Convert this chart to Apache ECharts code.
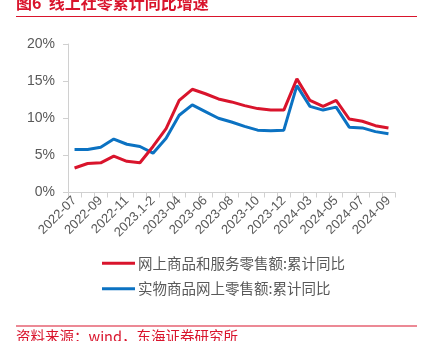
<!DOCTYPE html>
<html>
<head>
<meta charset="utf-8">
<script src="https://cdn.jsdelivr.net/npm/echarts@6/dist/echarts.min.js"></script>
<style>
html,body{margin:0;padding:0;background:#fff;}
#c{width:429px;height:341px;}
</style>
</head>
<body>
<div id="c"></div>
<script>
var categories = ["2022-07","2022-08","2022-09","2022-10","2022-11","2022-12","2023.1-2","2023-03","2023-04","2023-05","2023-06","2023-07","2023-08","2023-09","2023-10","2023-11","2023-12","2024.1-2","2024-03","2024-04","2024-05","2024-06","2024-07","2024-08","2024-09"];
var onlineGoodsServices = [3.3,3.9,4.0,4.9,4.2,4.0,6.2,8.6,12.4,13.9,13.3,12.6,12.2,11.7,11.3,11.1,11.1,15.3,12.4,11.6,12.4,9.9,9.6,9.0,8.7];
var physicalGoodsOnline = [5.8,5.8,6.1,7.2,6.5,6.2,5.3,7.3,10.4,11.8,10.9,10.0,9.5,8.9,8.4,8.3,8.4,14.4,11.6,11.1,11.5,8.8,8.7,8.2,7.9];
var seriesNames = ["网上商品和服务零售额:累计同比","实物商品网上零售额:累计同比"];
var yTicks = [0,5,10,15,20];
var titleText = "图6  线上社零累计同比增速";
var sourceText = "资料来源：wind，东海证券研究所";

var RED = "#d9142c", BLUE = "#0b72c2", GRAY = "#595959", AXIS = "#d0d0d0";
var chart = echarts.init(document.getElementById("c"), null, {renderer:"canvas"});
chart.setOption({
  animation:false,
  backgroundColor:"#fff",
  textStyle:{fontFamily:"'Liberation Sans', 'Noto Sans CJK SC', sans-serif"},
  grid:{left:68,right:34,top:44,bottom:148.5,containLabel:false},
  legend:{
    orient:"vertical", left:97, top:251,
    itemWidth:33, itemHeight:3, itemGap:11,
    icon:"rect",
    textStyle:{color:GRAY,fontSize:14.5,fontFamily:"'Noto Sans CJK SC', sans-serif",padding:[0,0,0,-2]},
    data:seriesNames
  },
  xAxis:{
    type:"category", data:categories, boundaryGap:true,
    axisLine:{lineStyle:{color:AXIS,width:1}},
    axisTick:{show:true,interval:0,length:5,lineStyle:{color:AXIS}},
    axisLabel:{interval:1,rotate:45,color:GRAY,fontSize:13,margin:6},
    splitLine:{show:false}
  },
  yAxis:{
    type:"value", min:yTicks[0], max:yTicks[yTicks.length-1], interval:5,
    axisLine:{show:true,lineStyle:{color:AXIS,width:1}},
    axisTick:{show:true,length:5,lineStyle:{color:AXIS}},
    axisLabel:{color:GRAY,fontSize:14,margin:13,formatter:"{value}%"},
    splitLine:{show:false}
  },
  series:[
    {name:seriesNames[0],type:"line",data:onlineGoodsServices,symbol:"none",lineStyle:{color:RED,width:3},itemStyle:{color:RED},z:3},
    {name:seriesNames[1],type:"line",data:physicalGoodsOnline,symbol:"none",lineStyle:{color:BLUE,width:3},itemStyle:{color:BLUE},z:2}
  ],
  graphic:[
    {type:"text",left:16,top:-5,style:{text:titleText,fill:RED,font:"bold 16px 'Noto Sans CJK SC'"}},
    {type:"line",shape:{x1:16,y1:16.5,x2:417,y2:16.5},style:{stroke:RED,lineWidth:1.2}},
    {type:"line",shape:{x1:16,y1:326,x2:417,y2:326},style:{stroke:RED,lineWidth:1.2}},
    {type:"text",left:16,top:329,style:{text:sourceText,fill:RED,font:"14.5px 'Noto Sans CJK SC'"}}
  ]
});
</script>
</body>
</html>
